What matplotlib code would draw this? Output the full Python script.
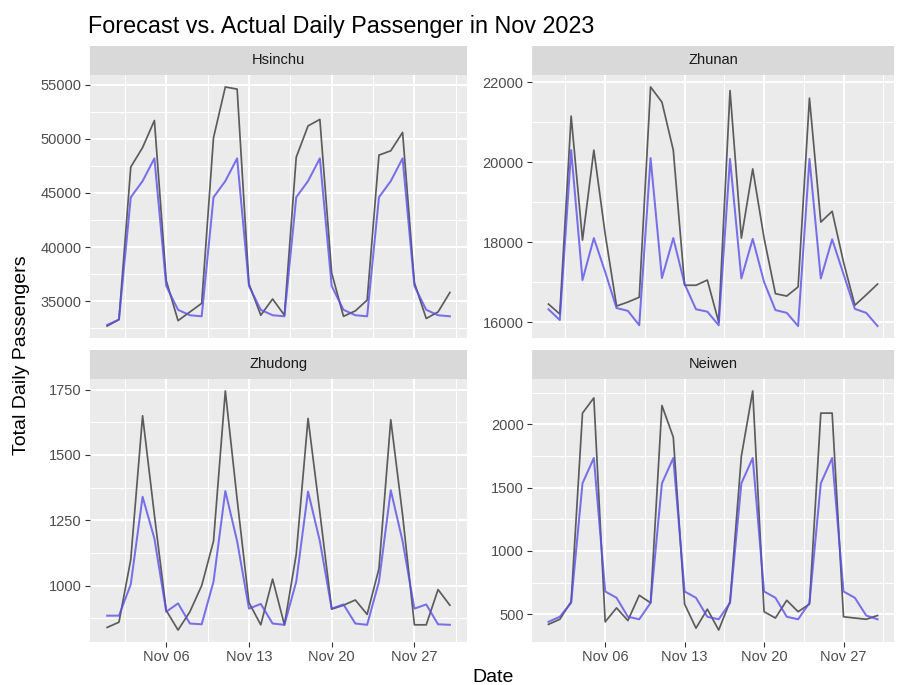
import numpy as np
import pandas as pd
import matplotlib
matplotlib.use("Agg")
import matplotlib.pyplot as plt
import matplotlib.dates as mdates
from matplotlib.ticker import MultipleLocator, StrMethodFormatter, FixedLocator

plt.rcParams['font.family'] = ['Liberation Sans', 'DejaVu Sans']

# daily values, Nov 1 .. Nov 30 2023
dates = pd.date_range("2023-11-01", "2023-11-30", freq="D")

stations = ["Hsinchu", "Zhunan", "Zhudong", "Neiwen"]

hsinchu_actual = [32700, 33300, 47400, 49200, 51700, 36900, 33200, 34000, 34800, 50100,
                  54800, 54600, 36600, 33700, 35200, 33700, 48300, 51200, 51800, 37600,
                  33600, 34100, 35100, 48500, 48900, 50600, 36700, 33400, 34000, 35800]
hsinchu_forecast = [32800, 33300, 44600, 46100, 48200, 36400, 34200, 33700, 33600, 44600,
                    46100, 48200, 36400, 34200, 33700, 33600, 44600, 46100, 48200, 36400,
                    34200, 33700, 33600, 44600, 46100, 48200, 36400, 34200, 33700, 33600]

zhunan_actual = [16450, 16200, 21150, 18050, 20300, 18200, 16400, 16500, 16620, 21880,
                 21500, 20300, 16920, 16920, 17050, 16000, 21790, 18100, 19830, 18100,
                 16710, 16650, 16880, 21600, 18500, 18770, 17500, 16420, 16680, 16950]
zhunan_forecast = [16320, 16050, 20300, 17050, 18100, 17250, 16350, 16280, 15920, 20100,
                   17100, 18100, 16950, 16320, 16260, 15920, 20080, 17090, 18080, 17000,
                   16300, 16230, 15900, 20080, 17090, 18070, 17200, 16330, 16230, 15900]

zhudong_actual = [840, 860, 1100, 1650, 1270, 905, 830, 900, 1000, 1170,
                  1745, 1330, 935, 850, 1025, 850, 1120, 1640, 1280, 910,
                  925, 945, 890, 1065, 1635, 1270, 850, 850, 985, 925]
zhudong_forecast = [885, 885, 1005, 1340, 1180, 900, 932, 855, 852, 1015,
                    1362, 1170, 912, 930, 855, 850, 1015, 1360, 1170, 912,
                    928, 855, 850, 1015, 1365, 1170, 912, 928, 852, 850]

neiwen_actual = [420, 460, 600, 2090, 2210, 440, 550, 450, 650, 590,
                 2150, 1900, 580, 390, 540, 375, 600, 1750, 2265, 520,
                 470, 610, 520, 580, 2090, 2090, 480, 470, 460, 490]
neiwen_forecast = [440, 480, 590, 1535, 1735, 680, 630, 480, 460, 590,
                   1535, 1735, 680, 630, 480, 460, 590, 1535, 1735, 680,
                   630, 480, 460, 590, 1535, 1735, 680, 630, 490, 460]

actual = {"Hsinchu": hsinchu_actual, "Zhunan": zhunan_actual,
          "Zhudong": zhudong_actual, "Neiwen": neiwen_actual}
forecast = {"Hsinchu": hsinchu_forecast, "Zhunan": zhunan_forecast,
            "Zhudong": zhudong_forecast, "Neiwen": neiwen_forecast}

# y break spacing per facet (free y scales)
y_step = {"Hsinchu": 5000, "Zhunan": 2000, "Zhudong": 250, "Neiwen": 500}

W, H = 898, 685
fig = plt.figure(figsize=(W / 100, H / 100), dpi=100)


def rect(x0, y0, x1, y1):
    return [x0 / W, 1 - y1 / H, (x1 - x0) / W, (y1 - y0) / H]


# panel boxes in pixels (left, top, right, bottom)
boxes = {"Hsinchu": (90, 75, 467, 338), "Zhunan": (532, 75, 894, 338),
         "Zhudong": (90, 379, 467, 642), "Neiwen": (532, 379, 894, 642)}
strip_h = 29

x_lo = dates[0] - pd.Timedelta(days=1.45)
x_hi = dates[-1] + pd.Timedelta(days=1.45)
major_x = pd.to_datetime(["2023-11-06", "2023-11-13", "2023-11-20", "2023-11-27"])
minor_x = pd.Timestamp("2023-10-30") + pd.to_timedelta(3.5 + 7 * np.arange(6), unit="D")

for name in stations:
    x0, y0, x1, y1 = boxes[name]
    ax = fig.add_axes(rect(x0, y0, x1, y1))
    ax.set_facecolor("#EBEBEB")
    for s in ax.spines.values():
        s.set_visible(False)

    ax.plot(dates, actual[name], color="#4D4D4D", lw=1.25, alpha=0.9, zorder=3)
    ax.plot(dates, forecast[name], color="#5A50E6", lw=1.45, alpha=0.8, zorder=4)

    vals = np.concatenate([actual[name], forecast[name]])
    lo, hi = vals.min(), vals.max()
    pad = 0.05 * (hi - lo)
    ax.set_ylim(lo - pad, hi + pad)
    ax.set_xlim(x_lo, x_hi)

    step = y_step[name]
    ax.yaxis.set_major_locator(MultipleLocator(step))
    ax.yaxis.set_minor_locator(MultipleLocator(step / 2))
    ax.yaxis.set_major_formatter(StrMethodFormatter("{x:.0f}"))
    ax.xaxis.set_major_locator(FixedLocator(mdates.date2num(major_x)))
    ax.xaxis.set_minor_locator(FixedLocator(mdates.date2num(minor_x)))
    ax.xaxis.set_major_formatter(mdates.DateFormatter("%b %d"))

    ax.grid(which="major", color="white", lw=1.4)
    ax.grid(which="minor", color="white", lw=0.7)
    ax.set_axisbelow(True)
    ax.tick_params(which="major", length=3.5, width=0.8, color="#333333",
                   labelcolor="#4D4D4D", labelsize=10.5, pad=2.5)
    ax.tick_params(which="minor", length=0)
    if y1 < 400:
        ax.tick_params(axis="x", which="both", length=0, labelbottom=False)

    sax = fig.add_axes(rect(x0, y0 - strip_h, x1, y0))
    sax.set_facecolor("#D9D9D9")
    sax.set_xticks([])
    sax.set_yticks([])
    for s in sax.spines.values():
        s.set_visible(False)
    sax.text(0.5, 0.5, name, ha="center", va="center", color="#1A1A1A",
             fontsize=10.5, transform=sax.transAxes)

fig.text(88 / W, 1 - 27 / H, "Forecast vs. Actual Daily Passenger in Nov 2023",
         ha="left", va="center", fontsize=16.8, color="black")
fig.text(493 / W, 1 - 677 / H, "Date", ha="center", va="center", fontsize=14)
fig.text(22 / W, 1 - 355 / H, "Total Daily Passengers", ha="center", va="center",
         rotation=90, fontsize=14)

fig.savefig("out.png", dpi=100)
